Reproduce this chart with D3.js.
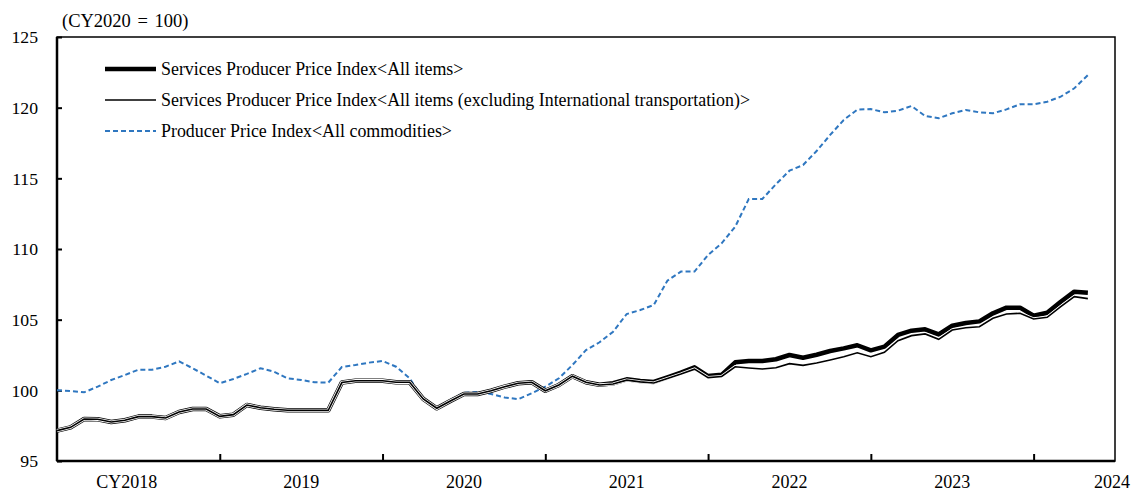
<!DOCTYPE html>
<html>
<head>
<meta charset="utf-8">
<script src="https://cdn.jsdelivr.net/npm/d3@7"></script>
<style>
  body { margin: 0; background: #fff; }
  svg text { font-family: "Liberation Serif", "Times New Roman", serif; fill: #000; }
</style>
</head>
<body>
<div id="chart"></div>
<script>
// chart size
var svgWidth = 1139;
var svgHeight = 492;

var margin = { top: 37, right: 24, bottom: 31, left: 57 };
var chartWidth = svgWidth - margin.left - margin.right;
var chartHeight = svgHeight - margin.top - margin.bottom;

// monthly data, Jan 2018 .. May 2024
var sppiAll = [
  97.15, 97.38, 97.97, 97.95, 97.76, 97.88, 98.14, 98.14, 98.04, 98.47, 98.68, 98.68,
  98.16, 98.28, 98.96, 98.77, 98.66, 98.59, 98.59, 98.59, 98.59, 100.55, 100.68, 100.68,
  100.68, 100.57, 100.57, 99.39, 98.73, 99.25, 99.74, 99.74, 99.97, 100.26, 100.5, 100.57,
  99.97, 100.38, 101.0, 100.57, 100.4, 100.5, 100.78, 100.66, 100.59, 100.92, 101.25, 101.63,
  101.01, 101.1, 101.98, 102.08, 102.08, 102.2, 102.5, 102.31, 102.52, 102.78, 102.97, 103.19,
  102.83, 103.09, 103.92, 104.22, 104.32, 103.96, 104.57, 104.76, 104.88, 105.45, 105.85, 105.85,
  105.28, 105.49, 106.27, 106.98, 106.91
];
var sppiExIntl = [
  97.15, 97.38, 97.97, 97.95, 97.76, 97.88, 98.14, 98.14, 98.04, 98.47, 98.68, 98.68,
  98.16, 98.28, 98.96, 98.77, 98.66, 98.59, 98.59, 98.59, 98.59, 100.55, 100.68, 100.68,
  100.68, 100.57, 100.57, 99.39, 98.73, 99.25, 99.74, 99.74, 99.97, 100.26, 100.5, 100.57,
  99.97, 100.38, 101.0, 100.57, 100.38, 100.45, 100.72, 100.6, 100.52, 100.84, 101.15, 101.5,
  100.9, 100.98, 101.67, 101.58, 101.51, 101.6, 101.89, 101.77, 101.93, 102.15, 102.38, 102.66,
  102.38, 102.69, 103.51, 103.87, 103.99, 103.61, 104.27, 104.43, 104.5, 105.1, 105.4, 105.45,
  105.05, 105.17, 105.92, 106.63, 106.49
];
var ppiAll = [
  100.0, 99.95, 99.86, 100.26, 100.73, 101.08, 101.46, 101.46, 101.67, 102.05, 101.56, 101.04,
  100.5, 100.8, 101.16, 101.56, 101.32, 100.85, 100.73, 100.57, 100.54, 101.65, 101.79, 101.96,
  102.08, 101.67, 100.85, 99.37, 98.68, 99.32, 99.83, 99.88, 99.74, 99.5, 99.37, 99.79,
  100.26, 100.85, 101.79, 102.85, 103.4, 104.15, 105.4, 105.68, 106.04, 107.76, 108.4, 108.4,
  109.58, 110.4, 111.58, 113.54, 113.54, 114.58, 115.54, 115.94, 116.93, 118.07, 119.13, 119.86,
  119.9, 119.67, 119.79, 120.12, 119.41, 119.25, 119.6, 119.84, 119.67, 119.6, 119.88, 120.24,
  120.24, 120.42, 120.78, 121.37, 122.31
];

var yearLabels = ["CY2018", "2019", "2020", "2021", "2022", "2023", "2024"];
var yTicks = [95, 100, 105, 110, 115, 120, 125];
var seriesNames = [
  "Services Producer Price Index<All items>",
  "Services Producer Price Index<All items (excluding International transportation)>",
  "Producer Price Index<All commodities>"
];

var svg = d3.select("#chart")
  .append("svg")
  .attr("width", svgWidth)
  .attr("height", svgHeight);

var chartGroup = svg.append("g")
  .attr("transform", `translate(${margin.left}, ${margin.top})`);

// month index scale (0 = Jan 2018, 78 = Jul 2024)
var xScale = d3.scaleLinear()
  .domain([0, 78])
  .range([0, chartWidth]);

var yScale = d3.scaleLinear()
  .domain([95, 125])
  .range([chartHeight, 0]);

// frame
chartGroup.append("rect")
  .attr("x", 0)
  .attr("y", 0)
  .attr("width", chartWidth)
  .attr("height", chartHeight)
  .attr("fill", "none")
  .attr("stroke", "#000")
  .attr("stroke-width", 1.5);
chartGroup.append("line")
  .attr("x1", 0).attr("x2", chartWidth)
  .attr("y1", chartHeight).attr("y2", chartHeight)
  .attr("stroke", "#000").attr("stroke-width", 2.5);
chartGroup.append("line")
  .attr("x1", 0).attr("x2", 0)
  .attr("y1", 0).attr("y2", chartHeight)
  .attr("stroke", "#000").attr("stroke-width", 2.5);

// y axis, ticks pointing inward
var leftAxis = d3.axisLeft(yScale)
  .tickValues(yTicks)
  .tickSize(-5)
  .tickPadding(19);
var yAxisG = chartGroup.append("g").call(leftAxis);
yAxisG.select(".domain").remove();
yAxisG.selectAll(".tick line").attr("stroke", "#000").attr("stroke-width", 2);
yAxisG.selectAll("text")
  .style("font-family", "'Liberation Serif', 'Times New Roman', serif")
  .style("font-size", "17.7px")
  .attr("fill", "#000");

// x axis: year boundary ticks pointing up
var yearTicks = d3.range(12, 78, 12);
var bottomAxis = d3.axisBottom(xScale)
  .tickValues(yearTicks)
  .tickSize(-7)
  .tickFormat("");
var xAxisG = chartGroup.append("g")
  .attr("transform", `translate(0, ${chartHeight})`)
  .call(bottomAxis);
xAxisG.select(".domain").remove();
xAxisG.selectAll(".tick line").attr("stroke", "#000").attr("stroke-width", 2);

// year labels, centred in each year
chartGroup.selectAll(".year-label")
  .data(yearLabels)
  .enter()
  .append("text")
  .attr("class", "year-label")
  .attr("x", function(d, i) {
    if (i === 0) return xScale(6) + 19;
    if (i === yearLabels.length - 1) return xScale(78) - 3;
    return xScale(i * 12 + 6);
  })
  .attr("y", chartHeight + 27)
  .attr("text-anchor", function(d, i) { return i === 0 ? "end" : "middle"; })
  .style("font-size", "18px")
  .text(d => d);

// unit label
svg.append("text")
  .attr("x", 62)
  .attr("y", 27)
  .style("font-size", "18.5px")
  .style("word-spacing", "2px")
  .text("(CY2020 = 100)");

// lines
var line = d3.line()
  .x((d, i) => xScale(i))
  .y(d => yScale(d));

chartGroup.append("path")
  .datum(ppiAll)
  .attr("d", line)
  .attr("fill", "none")
  .attr("stroke", "#2f77c0")
  .attr("stroke-width", 2)
  .attr("stroke-dasharray", "5,3");

chartGroup.append("path")
  .datum(sppiAll)
  .attr("d", line)
  .attr("fill", "none")
  .attr("stroke", "#000")
  .attr("stroke-width", 4.5)
  .attr("stroke-linejoin", "round");

// thin line drawn on a white halo so it shows beside the thick one
chartGroup.append("path")
  .datum(sppiExIntl)
  .attr("d", line)
  .attr("fill", "none")
  .attr("stroke", "#fff")
  .attr("stroke-width", 3.2);
chartGroup.append("path")
  .datum(sppiExIntl)
  .attr("d", line)
  .attr("fill", "none")
  .attr("stroke", "#000")
  .attr("stroke-width", 1.6);

// legend
var legendStyles = [
  { width: 4.5, color: "#000", dash: null },
  { width: 1.6, color: "#000", dash: null },
  { width: 2, color: "#2f77c0", dash: "5,3" }
];
var legendY = [69, 100, 131];

var legend = svg.selectAll(".legend")
  .data(seriesNames)
  .enter()
  .append("g")
  .attr("class", "legend")
  .attr("transform", (d, i) => `translate(105, ${legendY[i]})`);

legend.append("line")
  .attr("x1", 0).attr("x2", 51)
  .attr("y1", 0).attr("y2", 0)
  .attr("stroke", (d, i) => legendStyles[i].color)
  .attr("stroke-width", (d, i) => legendStyles[i].width)
  .attr("stroke-dasharray", (d, i) => legendStyles[i].dash);

legend.append("text")
  .attr("x", 56)
  .attr("y", 6)
  .style("font-size", "17.9px")
  .text(d => d);
</script>
</body>
</html>
